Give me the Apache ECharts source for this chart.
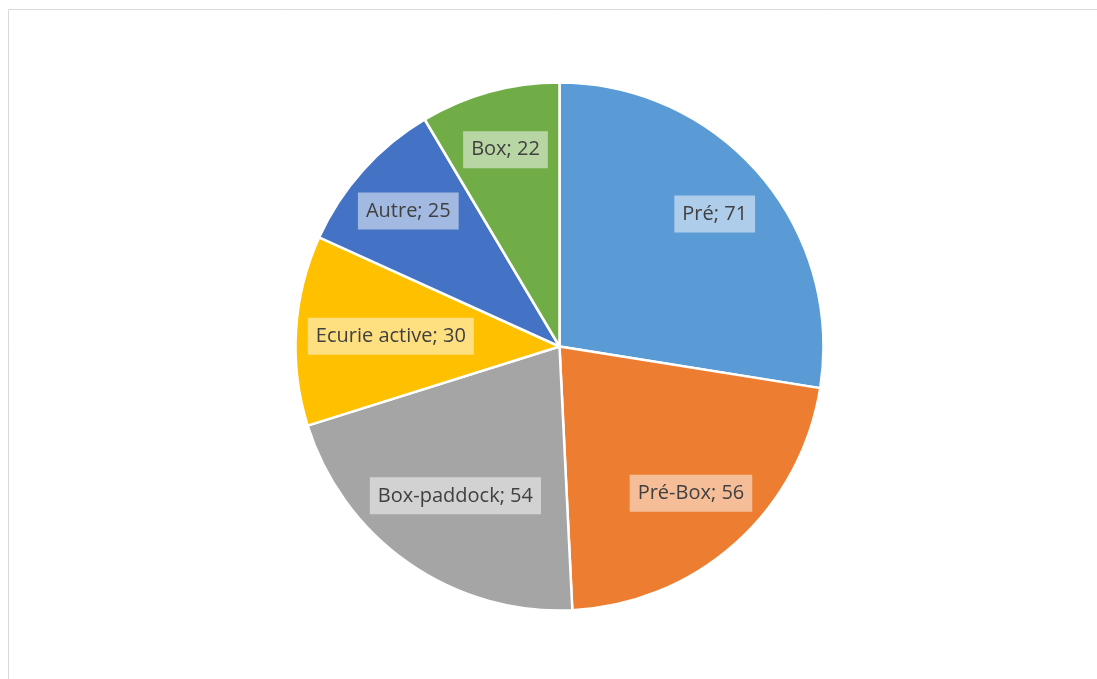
<!DOCTYPE html>
<html><head><meta charset="utf-8">
<script src="https://cdn.jsdelivr.net/npm/echarts@6/dist/echarts.min.js"></script>
<style>html,body{margin:0;padding:0;background:#fff}#c{width:1097px;height:679px}</style>
</head><body><div id="c"></div>
<script>
const categories = ['Pré', 'Pré-Box', 'Box-paddock', 'Ecurie active', 'Autre', 'Box'];
const values = [71, 56, 54, 30, 25, 22];
const colors = ['#5B9BD5', '#ED7D31', '#A5A5A5', '#FFC000', '#4472C4', '#70AD47'];

const CX = 559.5, CY = 346.5, R = 264;

const data = categories.map((n, i) => ({ name: n, value: values[i], itemStyle: { color: colors[i] } }));
const labelData = categories.map((n, i) => ({ name: n, value: values[i] }));

// keep each label box inside the pie circle by sliding it toward the centre
function fitInside(params) {
  const r = params.labelRect;
  let mx = r.x + r.width / 2, my = r.y + r.height / 2;
  let dx = mx - CX, dy = my - CY;
  let d = Math.sqrt(dx * dx + dy * dy) || 1;
  const ux = dx / d, uy = dy / d;
  const lim = R - 10;
  const fits = (px, py) => {
    const xs = [px - r.width / 2, px + r.width / 2];
    const ys = [py - r.height / 2, py + r.height / 2];
    for (const x of xs) for (const y of ys) {
      if (Math.hypot(x - CX, y - CY) > lim) return false;
    }
    return true;
  };
  while (d > 0 && !fits(CX + ux * d, CY + uy * d)) d -= 1;
  return { x: CX + ux * d, y: CY + uy * d };
}

const chart = echarts.init(document.getElementById('c'), null, { renderer: 'canvas' });
chart.setOption({
  animation: false,
  graphic: [{
    type: 'rect',
    shape: { x: 8.5, y: 9.5, width: 1200, height: 800 },
    style: { fill: 'none', stroke: '#D9D9D9', lineWidth: 1 }, silent: true
  }],
  series: [{
    type: 'pie',
    center: [CX, CY],
    radius: [0, R],
    startAngle: 90,
    clockwise: true,
    label: { show: false },
    labelLine: { show: false },
    itemStyle: { borderColor: '#fff', borderWidth: 2.5 },
    data: data
  }, {
    type: 'pie',
    center: [CX, CY],
    radius: [140, 262],
    startAngle: 90,
    clockwise: true,
    silent: true,
    itemStyle: { color: 'rgba(0,0,0,0)' },
    label: {
      show: true, position: 'inside',
      formatter: '{b}; {c}',
      color: '#404040',
      fontFamily: 'Open Sans, Noto Sans, sans-serif',
      fontSize: 20,
      lineHeight: 22,
      backgroundColor: 'rgba(255,255,255,0.5)',
      padding: [8, 8, 7, 8]
    },
    labelLayout: fitInside,
    labelLine: { show: false },
    data: labelData
  }]
});
</script></body></html>
